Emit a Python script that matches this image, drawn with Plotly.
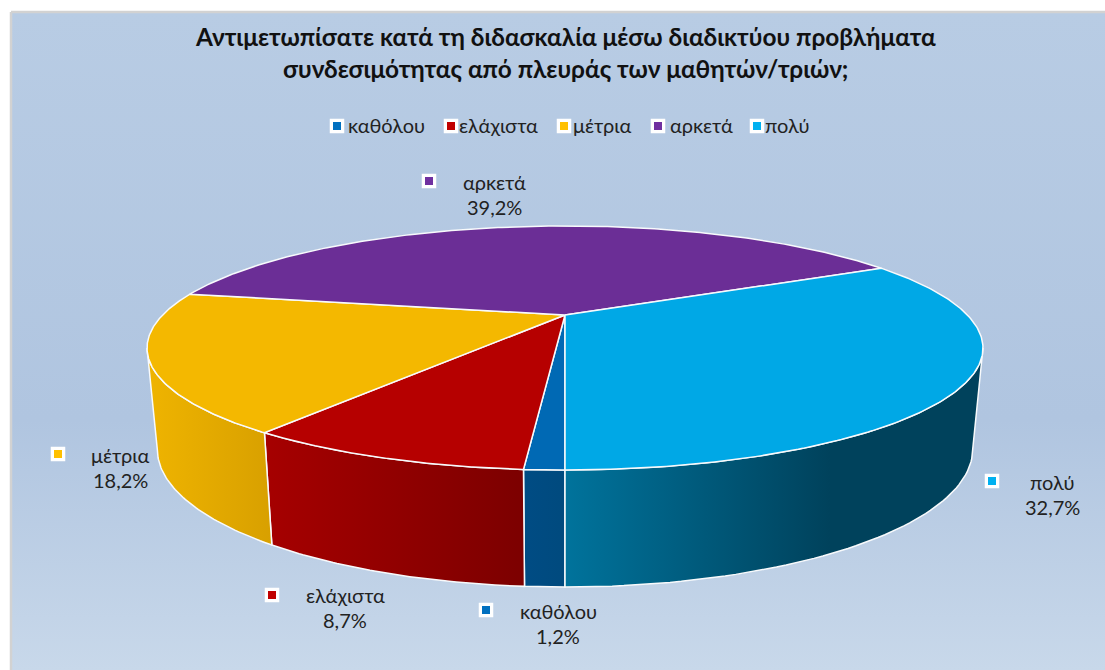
import numpy as np
import plotly.graph_objects as go

categories = ["καθόλου", "ελάχιστα", "μέτρια", "αρκετά", "πολύ"]
values = [1.2, 8.7, 18.2, 39.2, 32.7]
percent_labels = ["1,2%", "8,7%", "18,2%", "39,2%", "32,7%"]
top_colors = ["#0069b4", "#b60000", "#f4b800", "#6b2e96", "#00a8e6"]
wall_left = ["#004c84", "#a60000", "#efb400", "#4a2068", "#00739c"]
wall_right = ["#004a7e", "#7c0000", "#d8a000", "#4a2068", "#00425c"]
key_colors = ["#0070c0", "#c00000", "#ffc000", "#7030a0", "#00b0f0"]

title_lines = ["Αντιμετωπίσατε κατά τη διδασκαλία μέσω διαδικτύου προβλήματα",
               "συνδεσιμότητας από πλευράς των μαθητών/τριών;"]

# layout (pixel positions on the page)
W, H = 1105, 670
legend_key_x = [337, 451, 564, 658, 757]
legend_text_x = [346, 457, 571, 668, 763]
legend_y = 125
label_key_xy = [(486, 610), (272, 595), (58, 454), (429, 181), (992, 481)]
label_text_xy = [(558, 611), (345, 595), (120, 455), (494, 182), (1052, 482)]
label_line_gap = 26
FONT = "Lato, Carlito, 'Noto Sans', sans-serif"

# perspective of the pie: unit circle -> page
CX = 565
TOP = dict(y0=315, A=402.4, B=113.1, k=0.2705)
BOT = dict(y0=412, A=392.5, B=127.7, k=0.2705)


def project(frac, plane):
    t = 2 * np.pi * np.asarray(frac)
    u, v = np.sin(t), np.cos(t)
    d = 1 - plane["k"] * v
    return CX - plane["A"] * u / d, plane["y0"] + plane["B"] * v / d


fig = go.Figure()

# panel background
fig.add_trace(go.Scatter(
    x=[11, W + 5, W + 5, 11, 11], y=[12, 12, H + 2, H + 2, 12], mode="lines", fill="toself",
    line=dict(color="#d2d2d2", width=2.5),
    fillgradient=dict(type="vertical", start=12, stop=670,
                      colorscale=[[0, "#b8cce4"], [0.62, "#b0c5e0"], [1, "#c8d8ea"]]),
    hoverinfo="skip", showlegend=False))

edges = np.concatenate([[0], np.cumsum(values)]) / 100.0
tv = np.arccos(TOP["k"]) / (2 * np.pi)  # silhouette of the side wall
visible = [(0.0, tv), (1 - tv, 1.0)]

EDGE = "#f8fafc"

# side walls
for i, cat in enumerate(categories):
    for lo, hi in visible:
        a, b = max(edges[i], lo), min(edges[i + 1], hi)
        if b <= a:
            continue
        f = np.linspace(a, b, 60)
        xt, yt = project(f, TOP)
        xb, yb = project(f[::-1], BOT)
        xs = np.concatenate([xt, xb, xt[:1]])
        ys = np.concatenate([yt, yb, yt[:1]])
        x_lo, x_hi = float(xs.min()), float(xs.max())
        fig.add_trace(go.Scatter(
            x=xs, y=ys, mode="lines", fill="toself", line=dict(color=EDGE, width=1.5),
            fillgradient=dict(type="horizontal", start=x_lo, stop=x_hi if i != 4 else 830,
                              colorscale=[[0, wall_left[i]], [1, wall_right[i]]]),
            hoverinfo="skip", showlegend=False))

# top faces
for i, cat in enumerate(categories):
    f = np.linspace(edges[i], edges[i + 1], 200)
    xr, yr = project(f, TOP)
    xs = np.concatenate([[CX], xr, [CX]])
    ys = np.concatenate([[TOP["y0"]], yr, [TOP["y0"]]])
    fig.add_trace(go.Scatter(
        x=xs, y=ys, mode="lines", fill="toself", fillcolor=top_colors[i],
        line=dict(color=EDGE, width=1.5), name=cat,
        text=f"{cat}: {percent_labels[i]}", hoverinfo="text", showlegend=False))

# keys: legend row + data labels
key_x = legend_key_x + [p[0] for p in label_key_xy]
key_y = [legend_y + 1] * 5 + [p[1] for p in label_key_xy]
key_c = key_colors + key_colors
fig.add_trace(go.Scatter(
    x=key_x, y=key_y, mode="markers", hoverinfo="skip", showlegend=False,
    marker=dict(symbol="square", size=13, color="white", line=dict(color="white", width=1.5))))
fig.add_trace(go.Scatter(
    x=key_x, y=key_y, mode="markers", hoverinfo="skip", showlegend=False,
    marker=dict(symbol="square", size=8, color=key_c)))

annotations = []
for line, y in zip(title_lines, [36, 68]):
    annotations.append(dict(x=565, y=y, text=f"<b>{line}</b>", showarrow=False,
                            font=dict(size=24.4, color="#111111", family=FONT)))
for i, cat in enumerate(categories):
    annotations.append(dict(x=legend_text_x[i], y=legend_y, text=cat, showarrow=False, xanchor="left",
                            font=dict(size=20, color="#222222", family=FONT)))
    tx, ty = label_text_xy[i]
    annotations.append(dict(x=tx, y=ty, text=cat, showarrow=False,
                            font=dict(size=20, color="#222222", family=FONT)))
    annotations.append(dict(x=tx, y=ty + label_line_gap - 1, text=percent_labels[i], showarrow=False,
                            font=dict(size=20, color="#222222", family=FONT)))

fig.update_layout(
    width=W, height=H, margin=dict(l=0, r=0, t=0, b=0),
    paper_bgcolor="white", plot_bgcolor="white", showlegend=False,
    xaxis=dict(range=[0, W], visible=False, fixedrange=True),
    yaxis=dict(range=[H, 0], visible=False, fixedrange=True),
    annotations=annotations,
)
fig.write_html("out.html", config={"displayModeBar": False},
               post_script="document.body.style.margin='0';document.body.style.overflow='hidden';")
